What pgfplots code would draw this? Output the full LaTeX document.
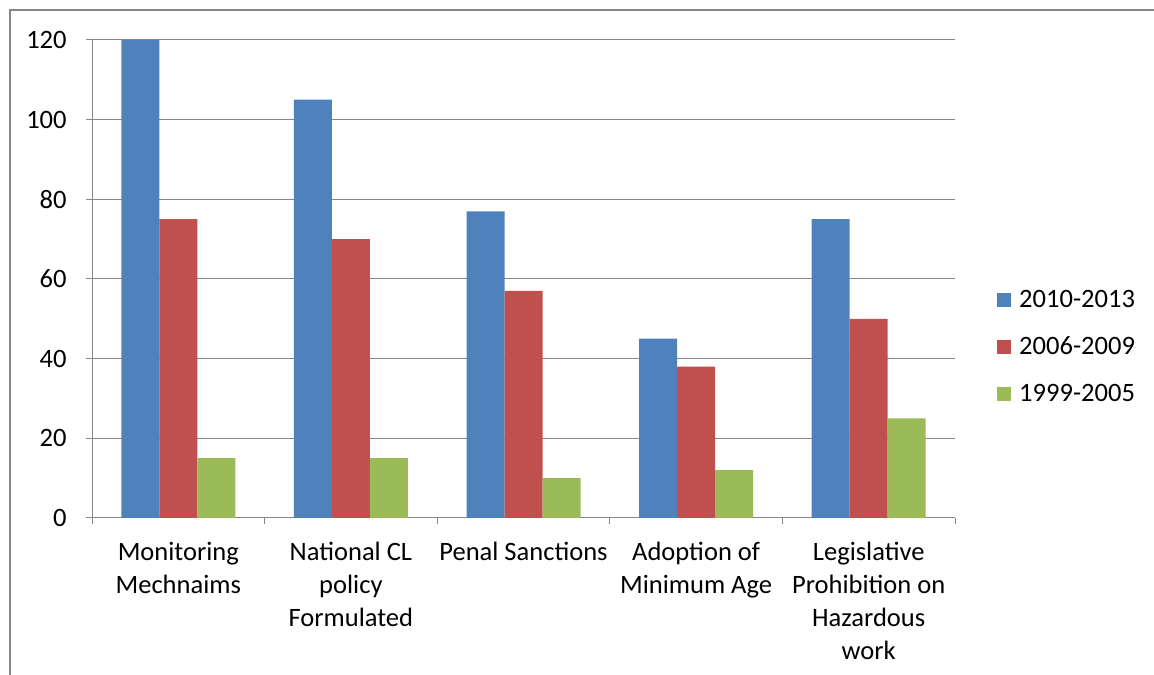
\documentclass[border=0pt]{standalone}
\usepackage{fontspec}
\setmainfont{Carlito}
\usepackage{pgfplots}
\pgfplotsset{compat=1.18}
\definecolor{cblue}{HTML}{4F81BD}
\definecolor{cred}{HTML}{C0504D}
\definecolor{cgreen}{HTML}{9BBB59}
\definecolor{axgray}{HTML}{868686}
\begin{document}
\begin{tikzpicture}
\useasboundingbox (0,0) rectangle (865.5pt,506.25pt);
\draw[axgray, line width=1.5pt] (7.5pt,0pt) -- (7.5pt,498.75pt) -- (865.5pt,498.75pt);
\begin{axis}[
  at={(69pt,117.75pt)}, anchor=south west,
  scale only axis, width=647.25pt, height=358.5pt,
  ybar=0pt, bar width=28.5pt,
  xmin=-0.5, xmax=4.5, ymin=0, ymax=120,
  ytick={0,20,...,120},
  xtick={0,1,2,3,4},
  xticklabels={Monitoring\\Mechnaims, National CL\\policy\\Formulated, Penal Sanctions, Adoption of\\Minimum Age, Legislative\\Prohibition on\\Hazardous\\work},
  minor xtick={-0.5,0.5,1.5,2.5,3.5,4.5},
  major x tick style={draw=none},
  tick align=outside,
  major tick length=4.5pt, minor tick length=4.5pt,
  tick style={axgray, line width=0.75pt},
  axis x line*=bottom, axis y line*=left,
  axis line style={axgray, line width=0.75pt, -},
  ymajorgrids, grid style={axgray, line width=0.75pt},
  /pgf/number format/assume math mode=true,
  tick label style={font=\fontsize{19.9}{24.75}\selectfont, black},
  x tick label style={align=center, anchor=north, yshift=-10pt},
  y tick label style={xshift=-11pt},
  legend style={draw=none, at={(1.044,0.358)}, anchor=west,
    font=\fontsize{19.9}{24.75}\selectfont, legend cell align=left,
    row sep=16.5pt,
    /tikz/every odd column/.append style={column sep=4pt}},
  legend image code/.code={\fill[#1] (-6pt,-5.25pt) rectangle (4.5pt,5.25pt);},
]
\addplot[fill=cblue, draw=none] coordinates {(0,120) (1,105) (2,77) (3,45) (4,75)};
\addplot[fill=cred, draw=none] coordinates {(0,75) (1,70) (2,57) (3,38) (4,50)};
\addplot[fill=cgreen, draw=none] coordinates {(0,15) (1,15) (2,10) (3,12) (4,25)};
\legend{2010-2013,2006-2009,1999-2005}
\end{axis}
\end{tikzpicture}
\end{document}
